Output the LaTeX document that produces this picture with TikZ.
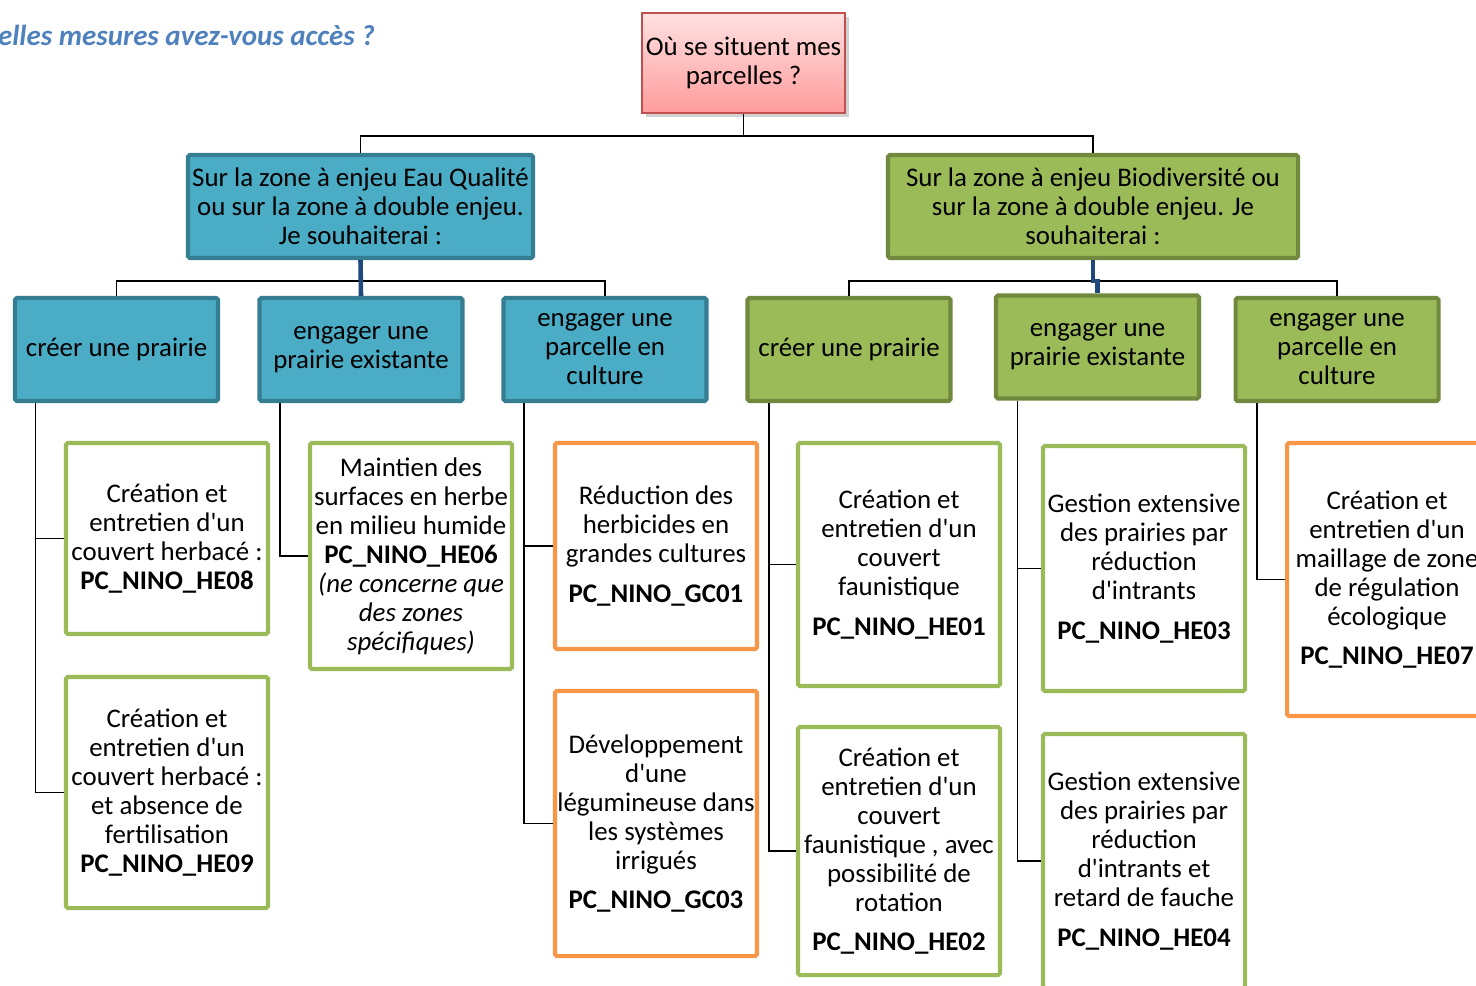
\documentclass[tikz,border=0pt]{standalone}
\usepackage{fontspec}
\setmainfont{Carlito}[Ligatures=TeXOff]
\usetikzlibrary{shadows}
\definecolor{eaufill}{HTML}{4BACC6}
\definecolor{eauedge}{HTML}{357D91}
\definecolor{biofill}{HTML}{9BBB59}
\definecolor{bioedge}{HTML}{71893F}
\definecolor{leafgreen}{HTML}{9BBB59}
\definecolor{leaforange}{HTML}{F79646}
\definecolor{linkblue}{HTML}{1F497D}
\definecolor{titleblue}{HTML}{4F81BD}
\definecolor{rootedge}{HTML}{C0504D}
\definecolor{roottop}{HTML}{FFE1E1}
\definecolor{rootbot}{HTML}{FF9C9C}

\begin{document}
\begin{tikzpicture}[x=0.02cm,y=-0.02cm,
 every node/.style={font=\fontsize{15.3}{16.5}\selectfont, align=center, inner sep=1pt},
 boxsize/.style 2 args={minimum width=#1*0.02cm, minimum height=#2*0.02cm},
 rootbox/.style={draw=rootedge, line width=1.4pt, top color=roottop, bottom color=rootbot,
   drop shadow={shadow xshift=2pt, shadow yshift=-2pt, fill=black!35}, boxsize={203}{100}},
 eaubox/.style={draw=eauedge, fill=eaufill, line width=2.3pt, rounded corners=1pt},
 biobox/.style={draw=bioedge, fill=biofill, line width=2.3pt, rounded corners=1pt},
 greenleaf/.style={draw=leafgreen, fill=white, line width=2.3pt, rounded corners=1pt},
 orangeleaf/.style={draw=leaforange, fill=white, line width=2.3pt, rounded corners=1pt},
 link/.style={draw=black, line width=1.1pt},
 thicklink/.style={draw=linkblue, line width=2.6pt}]
 \useasboundingbox (0,0) rectangle (1476,985);
 \clip (0,0) rectangle (1476,985);

 \node[anchor=west, text=titleblue, font=\fontsize{16.5}{19}\selectfont\bfseries\itshape] (title) at (-4,35) {elles mesures avez-vous accès ?};

 % top of the tree
 \node[rootbox] (root) at (743.5,63) {Où se situent mes\\parcelles ?};
 \node[eaubox, boxsize={345}{103}] (eau) at (360.5,206.5) {Sur la zone à enjeu Eau Qualité\\ou sur la zone à double enjeu.\\Je souhaiterai :};
 \node[biobox, boxsize={410}{103}] (bio) at (1093,206.5) {Sur la zone à enjeu Biodiversité ou\\sur la zone à double enjeu. Je\\souhaiterai :};

 % second row
 \node[eaubox, boxsize={203}{103}] (eauA) at (116.5,349.5) {créer une prairie};
 \node[eaubox, boxsize={203}{103}] (eauB) at (361,349.5) {engager une\\prairie existante};
 \node[eaubox, boxsize={203}{103}] (eauC) at (605,349.5) {engager une\\parcelle en\\culture};
 \node[biobox, boxsize={203}{103}] (bioA) at (849,349.5) {créer une prairie};
 \node[biobox, boxsize={203}{103}] (bioB) at (1097.5,347) {engager une\\prairie existante};
 \node[biobox, boxsize={203}{103}] (bioC) at (1337,349.5) {engager une\\parcelle en\\culture};

 % measures
 \node[greenleaf, boxsize={202}{191}] (he08) at (167,538.5) {Création et\\entretien d'un\\couvert herbacé :\\\textbf{PC\_NINO\_HE08}};
 \node[greenleaf, boxsize={202}{231}] (he09) at (167,792.5) {Création et\\entretien d'un\\couvert herbacé :\\et absence de\\fertilisation\\\textbf{PC\_NINO\_HE09}};
 \node[greenleaf, boxsize={202}{226}] (he06) at (411,556) {Maintien des\\surfaces en herbe\\en milieu humide\\\textbf{PC\_NINO\_HE06}\\\textit{(ne concerne que}\\\textit{des zones}\\\textit{spécifiques)}};
 \node[orangeleaf, boxsize={202}{206}] (gc01) at (656,546) {Réduction des\\herbicides en\\grandes cultures\\[6pt]\textbf{PC\_NINO\_GC01}};
 \node[orangeleaf, boxsize={202}{265}] (gc03) at (656,823.5) {Développement\\d'une\\légumineuse dans\\les systèmes\\irrigués\\[6pt]\textbf{PC\_NINO\_GC03}};
 \node[greenleaf, boxsize={202}{243}] (he01) at (899,564.5) {Création et\\entretien d'un\\couvert\\faunistique\\[6pt]\textbf{PC\_NINO\_HE01}};
 \node[greenleaf, boxsize={202}{248}] (he02) at (899,851) {Création et\\entretien d'un\\couvert\\faunistique , avec\\possibilité de\\rotation\\[6pt]\textbf{PC\_NINO\_HE02}};
 \node[greenleaf, boxsize={202}{245}] (he03) at (1144,568.5) {Gestion extensive\\des prairies par\\réduction\\d'intrants\\[6pt]\textbf{PC\_NINO\_HE03}};
 \node[greenleaf, boxsize={202}{254}] (he04) at (1144,861) {Gestion extensive\\des prairies par\\réduction\\d'intrants et\\retard de fauche\\[6pt]\textbf{PC\_NINO\_HE04}};
 \node[orangeleaf, boxsize={200}{273}] (he07) at (1387,579.5) {Création et\\entretien d'un\\maillage de zone\\de régulation\\écologique\\[6pt]\textbf{PC\_NINO\_HE07}};

 % connectors
 \draw[link] (root.south) -- ++(0,22) -| (eau.north);
 \draw[link] (root.south) -- ++(0,22) -| (bio.north);
 \draw[link] (eau.south) -- ++(0,21) -| (eauA.north);
 \draw[link] (eau.south) -- ++(0,21) -| (eauC.north);
 \draw[thicklink] (eau.south) -- (eauB.north);
 \draw[link] (bio.south) -- ++(0,21) -| (bioA.north);
 \draw[link] (bio.south) -- ++(0,21) -| (bioC.north);
 \draw[thicklink] (bio.south) -- ++(0,21) -| (bioB.north);

 \draw[link] ([xshift=0.45cm]eauA.south west) |- (he08.west);
 \draw[link] ([xshift=0.45cm]eauA.south west) |- (he09.west);
 \draw[link] ([xshift=0.45cm]eauB.south west) |- (he06.west);
 \draw[link] ([xshift=0.45cm]eauC.south west) |- (gc01.west);
 \draw[link] ([xshift=0.45cm]eauC.south west) |- (gc03.west);
 \draw[link] ([xshift=0.47cm]bioA.south west) |- (he01.west);
 \draw[link] ([xshift=0.47cm]bioA.south west) |- (he02.west);
 \draw[link] ([xshift=0.47cm]bioB.south west) |- (he03.west);
 \draw[link] ([xshift=0.47cm]bioB.south west) |- (he04.west);
 \draw[link] ([xshift=0.47cm]bioC.south west) |- (he07.west);
\end{tikzpicture}
\end{document}
